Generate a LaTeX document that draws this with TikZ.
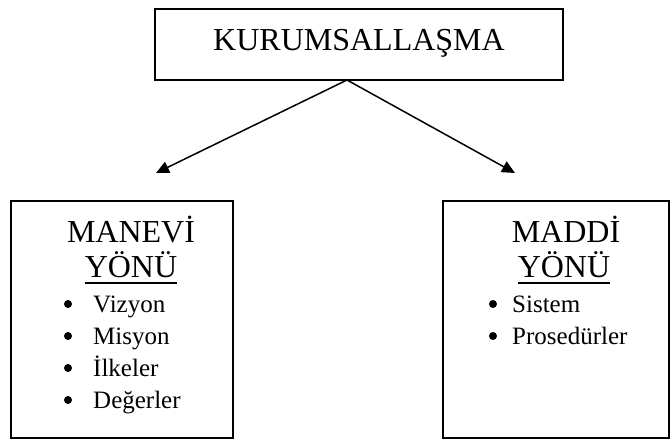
\documentclass[tikz,border=0pt]{standalone}
\usepackage{fontspec}
\setmainfont{Liberation Serif}
\usetikzlibrary{arrows.meta}
\begin{document}
\begin{tikzpicture}[x=1pt,y=-1pt,
  frame/.style={draw=black,line width=2pt,rectangle,inner sep=0pt},
  headtext/.style={anchor=base,inner sep=0pt,font=\fontsize{32}{36}\selectfont},
  itemtext/.style={anchor=base west,inner sep=0pt,font=\fontsize{25}{30}\selectfont},
  dot/.style={circle,fill=black,inner sep=0pt,minimum size=8pt},
  link/.style={line width=1.5pt,-{Triangle[length=13pt,width=12pt]}},
  rule/.style={line width=2pt}]
\useasboundingbox (0,0) rectangle (672,442);

% top box
\node[frame,minimum width=408pt,minimum height=71pt] (top) at (359,44.5) {};
\node[headtext] (toptext) at (359,50) {KURUMSALLAŞMA};

% left box
\node[frame,minimum width=222pt,minimum height=237pt] (left) at (122,319.5) {};
\node[headtext] (lt1) at (131,242) {MANEVİ};
\node[headtext] (lt2) at (131,277) {YÖNÜ};
\draw[rule] ([yshift=-6pt]lt2.base west) -- ([yshift=-6pt]lt2.base east);
\node[dot] (lb1) at (68,304) {};
\node[itemtext] (li1) at (93,312) {Vizyon};
\node[dot] (lb2) at (68,336) {};
\node[itemtext] (li2) at (93,344) {Misyon};
\node[dot] (lb3) at (68,368) {};
\node[itemtext] (li3) at (93,376) {İlkeler};
\node[dot] (lb4) at (68,400) {};
\node[itemtext] (li4) at (93,408) {Değerler};

% right box
\node[frame,minimum width=226pt,minimum height=237pt] (right) at (556,319.5) {};
\node[headtext] (rt1) at (566,242) {MADDİ};
\node[headtext] (rt2) at (564,277) {YÖNÜ};
\draw[rule] ([yshift=-6pt]rt2.base west) -- ([yshift=-6pt]rt2.base east);
\node[dot] (rb1) at (493,304) {};
\node[itemtext] (ri1) at (512,312) {Sistem};
\node[dot] (rb2) at (493,336) {};
\node[itemtext] (ri2) at (512,344) {Prosedürler};

% connectors
\coordinate (split) at (347,80);
\coordinate (tipL) at (156,173);
\coordinate (tipR) at (515,173);
\draw[link] (split) -- (tipL);
\draw[link] (split) -- (tipR);
\end{tikzpicture}
\end{document}
